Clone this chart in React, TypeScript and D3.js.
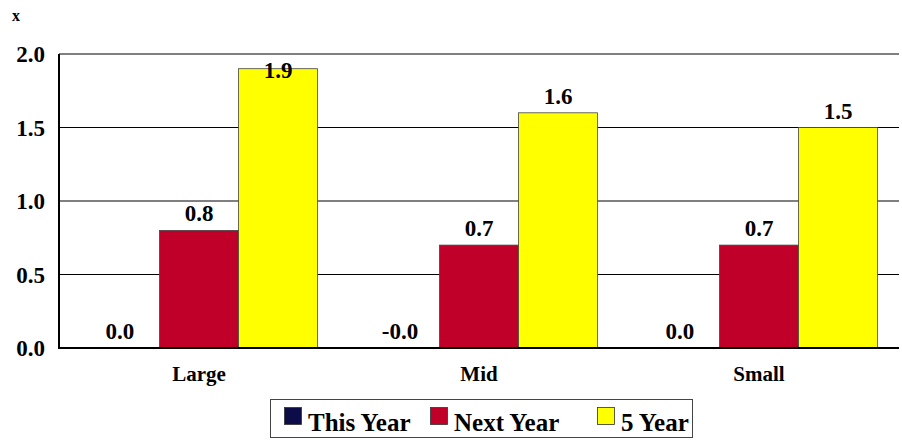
import React from "react";
import * as d3 from "d3";

const categories = ["Large", "Mid", "Small"];
const seriesNames = ["This Year", "Next Year", "5 Year"];
const thisYear = [0.0, -0.004, 0.0];
const nextYear = [0.8, 0.7, 0.7];
const fiveYear = [1.9, 1.6, 1.5];
const yTicks = [0, 0.5, 1.0, 1.5, 2.0];
const colors = ["#0c0c48", "#c00028", "#ffff00"];

const W = 902, H = 440;
const left = 59, right = 899, top = 54, bottom = 348;
const FONT = "Liberation Serif";

export default function App() {
  const series = [thisYear, nextYear, fiveYear];
  const x0 = d3.scaleBand<string>().domain(categories).range([left, right]).padding(0);
  const x1 = d3.scaleBand<string>().domain(seriesNames).range([0, x0.bandwidth()]).paddingInner(0).paddingOuter(0.272);
  const y = d3.scaleLinear().domain([0, 2]).range([bottom, top]);
  const tStyle = { fontFamily: FONT, fontWeight: 700 } as React.CSSProperties;

  return (
    <svg width={W} height={H} style={{ position: "absolute", left: 0, top: 0, background: "#fff" }}>
      <text x={12} y={21} fontSize={16} style={tStyle}>x</text>
      {yTicks.map((t) => (
        <g key={t}>
          <line x1={left} x2={right} y1={y(t)} y2={y(t)} stroke="#000" strokeWidth={1} />
          <text x={45} y={y(t) + 8} textAnchor="end" fontSize={23} style={tStyle}>{t.toFixed(1)}</text>
        </g>
      ))}
      {categories.map((c, ci) => (
        <g key={c}>
          {seriesNames.map((s, si) => {
            const v = series[si][ci];
            const bx = (x0(c) as number) + (x1(s) as number);
            const y0 = y(Math.max(0, v));
            const y1 = y(Math.min(0, v));
            const h = y1 - y0;
            if (h < 0.5) return null;
            return (
              <rect key={s} x={bx} y={y0} width={x1.bandwidth()} height={h}
                fill={colors[si]} stroke="#444" strokeWidth={0.8} />
            );
          })}
          <text x={(x0(c) as number) + x0.bandwidth() / 2} y={381} textAnchor="middle" fontSize={21} style={tStyle}>{c}</text>
        </g>
      ))}
      <line x1={left} x2={right} y1={bottom} y2={bottom} stroke="#000" strokeWidth={2} />
      <line x1={left} x2={left} y1={top} y2={bottom + 1} stroke="#000" strokeWidth={2} />
      {categories.map((c, ci) =>
        seriesNames.map((s, si) => {
          const v = series[si][ci];
          const cx = (x0(c) as number) + (x1(s) as number) + x1.bandwidth() / 2;
          const by = Math.max(top + 24, y(Math.max(0, v)) - 9);
          return (
            <text key={c + s} x={cx} y={by} textAnchor="middle" fontSize={23} style={tStyle}>{v.toFixed(1)}</text>
          );
        })
      )}
      <rect x={270.5} y={399.5} width={422} height={38} fill="#fff" stroke="#444" strokeWidth={1} />
      {seriesNames.map((s, i) => {
        const offs = [284, 430, 597];
        return (
          <g key={s}>
            <rect x={offs[i] + 0.5} y={407.5} width={17} height={17} fill={colors[i]} stroke="#333" strokeWidth={0.8} />
            <text x={offs[i] + 24} y={431} fontSize={25} style={tStyle}>{s}</text>
          </g>
        );
      })}
    </svg>
  );
}
